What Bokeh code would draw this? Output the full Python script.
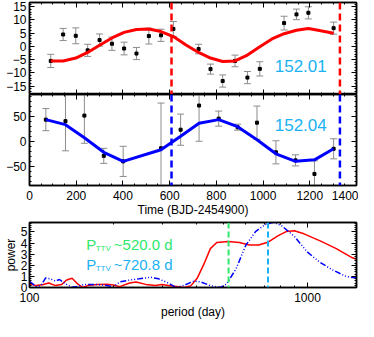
from bokeh.plotting import figure
from bokeh.models import (LinearAxis, LogAxis, FixedTicker, SingleIntervalTicker,
                          PrintfTickFormatter, CustomJSTickFormatter, Span)
from bokeh.layouts import column
from bokeh.core.properties import value
from bokeh.embed import file_html
from bokeh.resources import INLINE

FONT = "Liberation Sans"
RED = "#ff0000"
BLUE = "#0000ff"
CYAN = "#1ab2f2"
GREEN = "#2ee86a"
GRAY = "#8c8c8c"

# ---------------- data ----------------
# KOI 152.01 TTV (minutes)
t1 = [91, 144, 198, 249, 300, 353, 405, 458, 511, 563, 616, 724, 775, 827, 880, 933, 986, 1090, 1143, 1194, 1302]
o1 = [-5.5, 4.5, 4.0, -1.5, 2.4, 1.0, -0.8, -2.7, 3.9, 4.2, 6.6, -1.0, -8.6, -13.1, -5.5, -11.8, -8.5, 8.8, 12.1, 12.7, 6.9]
e1 = [2.5, 2.3, 3.0, 2.3, 2.3, 2.5, 2.4, 2.3, 3.0, 2.3, 2.8, 1.8, 1.9, 2.3, 2.2, 2.3, 2.7, 2.6, 2.0, 2.3, 2.3]
m1_t = [91, 144, 198, 249, 300, 353, 405, 458, 511, 563, 616, 670, 724, 775, 827, 880, 933, 986, 1038, 1090, 1143, 1194, 1247, 1302]
m1_v = [-5.5, -5.5, -4.4, -2.3, 0.4, 3.2, 5.3, 6.4, 6.6, 5.6, 3.7, 0.5, -2.3, -4.4, -5.7, -5.5, -3.3, -0.1, 2.8, 4.8, 6.1, 6.8, 5.9, 5.0]

# KOI 152.04 TTV (minutes)
t4 = [70, 154, 235, 318, 401, 563, 647, 726, 810, 891, 974, 1055, 1139, 1220, 1302]
o4 = [43, 40, 51, -29, -40, -14, 23, 71, 45, 28, 37, -22, -38, -65, -15]
e4 = [22, 59, 55, 15, 30, 90, 31, 71, 15, 6, 33, 23, 11, 26, 20]
m4_t = [70, 154, 235, 318, 401, 563, 647, 726, 810, 891, 974, 1055, 1139, 1220, 1302]
m4_v = [43, 33, 7, -22, -40, -17, 10, 36, 43, 29, 3, -25, -40, -37, -15]

epoch_marks = [608, 1329]

# periodograms
red_p = [100, 101.4, 105.5, 111.3, 117.4, 123.9, 130.6, 136.0, 142.3, 149.4, 155.5, 161.8, 175.4, 190.0, 200.5,
         211.3, 229.1, 241.7, 261.9, 283.8, 299.5, 315.8, 361.1, 380.9, 401.6, 423.8, 447.2, 471.6, 518.1,
         569.0, 616.6, 667.9, 723.8, 784.5, 838.0, 896.3, 970.7, 1110, 1269, 1450, 1500]
red_w = [0.3, 0.28, 0.17, 0.25, 0.4, 0.17, 0.28, 0.67, 0.83, 0.3, 0.0, 0.17, 0.28, 0.3, 0.22,
         0.08, 0.4, 0.5, 0.28, 0.17, 0.28, 0.17, 0.0, 0.17, 0.86, 2.1, 3.5, 4.05, 4.14,
         4.05, 3.83, 3.83, 4.1, 4.67, 5.03, 5.1, 4.83, 4.2, 3.5, 2.67, 2.55]
blue_p = [100, 101.4, 105.5, 109.8, 114.3, 119.0, 123.9, 128.2, 134.3, 141.6, 149.4, 157.6, 170.8, 185.1,
          200.5, 211.3, 229.1, 248.2, 272.6, 291.4, 315.8, 337, 361.1, 391.2, 412.7, 447.2, 484.6, 511.0,
          553.6, 599.8, 650.1, 704.3, 753.4, 805.2, 896.3, 997.5, 1110, 1235, 1375, 1500]
blue_w = [0.55, 0.44, 0.1, 0.17, 0.86, 0.78, 0.58, 0.72, 0.36, 0.03, 0.1, 0.28, 0.28, 0.22,
          0.08, 0.5, 0.67, 0.78, 0.92, 0.78, 0.4, 0.0, 0.22, 0.58, 0.5, 0.17, 0.0, 0.3,
          1.7, 3.8, 5.03, 5.67, 5.86, 5.58, 4.6, 3.2, 2.25, 1.56, 1.0, 0.85]
p_ttv = [520.0, 720.8]
p_lbl = ["~520.0 d", "~720.8 d"]

W = 358
LB = 24
RB = 2


def style_axis(ax, labels=True):
    ax.axis_line_color = "black"
    ax.axis_line_width = 1.5
    ax.major_tick_in = 5
    ax.major_tick_out = 0
    ax.minor_tick_in = 2
    ax.minor_tick_out = 0
    ax.major_tick_line_color = "black"
    ax.minor_tick_line_color = "black"
    ax.major_tick_line_width = 1
    ax.minor_tick_line_width = 1
    ax.axis_label_text_font = FONT
    ax.axis_label_text_font_style = "normal"
    ax.axis_label_text_font_size = "12px"
    ax.axis_label_text_color = "black"
    ax.major_label_text_font = FONT
    ax.major_label_text_color = "black"
    if labels:
        ax.major_label_text_font_size = "12px"
        ax.major_label_standoff = 3
    else:
        ax.formatter = CustomJSTickFormatter(code="return ''")
        ax.major_label_text_font_size = "1px"
        ax.major_label_standoff = 0


def base_fig(height, xr, yr, mbt, mbb, xlog=False):
    p = figure(width=W, height=height, x_range=xr, y_range=yr,
               x_axis_type="log" if xlog else "linear",
               output_backend="svg", toolbar_location=None,
               min_border_left=LB, min_border_right=RB,
               min_border_top=mbt, min_border_bottom=mbb)
    p.grid.visible = False
    p.outline_line_color = "black"
    p.outline_line_width = 1.5
    p.background_fill_color = "white"
    p.border_fill_color = "white"
    return p


def add_frame_axes(p, xt, yt, xlog=False):
    bottom = p.below[0]
    left = p.left[0]
    bottom.ticker = xt()
    left.ticker = yt()
    top = LogAxis(ticker=xt()) if xlog else LinearAxis(ticker=xt())
    right = LinearAxis(ticker=yt())
    style_axis(top, labels=False)
    style_axis(right, labels=False)
    p.add_layout(top, "above")
    p.add_layout(right, "right")
    return bottom, left


def errbars(p, t, o, e):
    lo = [a - b for a, b in zip(o, e)]
    hi = [a + b for a, b in zip(o, e)]
    p.segment(x0=t, y0=lo, x1=t, y1=hi, line_color=GRAY, line_width=1)
    p.scatter(x=t, y=lo, marker="dash", size=7, line_color=GRAY, line_width=1)
    p.scatter(x=t, y=hi, marker="dash", size=7, line_color=GRAY, line_width=1)
    p.scatter(x=t, y=o, marker="square", size=3, fill_color="black", line_color="black")


xtick = lambda: SingleIntervalTicker(interval=200, num_minor_ticks=4)

# ---------------- top panel ----------------
p1 = base_fig(94, (0, 1400), (-18.2, 16.6), 2, 0)
b1, l1 = add_frame_axes(p1, xtick, lambda: SingleIntervalTicker(interval=5, num_minor_ticks=5))
style_axis(b1, labels=False)
style_axis(l1)
errbars(p1, t1, o1, e1)
p1.line(m1_t, m1_v, line_color=RED, line_width=3)
for m in epoch_marks:
    p1.add_layout(Span(location=m, dimension="height", line_color=RED,
                       line_width=2.5, line_dash="7 4"))
p1.text(x=[1050], y=[-7.6], text=["152.01"], text_font=value(FONT), text_font_size="17px",
        text_color=CYAN, text_baseline="middle", text_align="left")

# ---------------- middle panel ----------------
p2 = base_fig(125, (0, 1400), (-88, 93), 0, 0)
b2, l2 = add_frame_axes(p2, xtick, lambda: SingleIntervalTicker(interval=50, num_minor_ticks=5))
style_axis(b2)
style_axis(l2)
b2.axis_label = "Time (BJD-2454900)"
b2.major_label_standoff = 5
b2.axis_label_standoff = 0
errbars(p2, t4, o4, e4)
p2.line(m4_t, m4_v, line_color=BLUE, line_width=3)
for m in epoch_marks:
    p2.add_layout(Span(location=m, dimension="height", line_color=BLUE,
                       line_width=2.5, line_dash="7 4"))
p2.text(x=[1050], y=[33], text=["152.04"], text_font=value(FONT), text_font_size="17px",
        text_color=CYAN, text_baseline="middle", text_align="left")

# ---------------- bottom panel ----------------
p3 = base_fig(102, (100, 1500), (0, 5.85), 3, 0, xlog=True)
logtick = lambda: FixedTicker(ticks=[100, 1000], minor_ticks=[200, 300, 400, 500, 600, 700, 800, 900])
b3, l3 = add_frame_axes(p3, logtick, lambda: SingleIntervalTicker(interval=1, num_minor_ticks=5), xlog=True)
style_axis(b3)
style_axis(l3)
b3.formatter = PrintfTickFormatter(format="%d")
b3.axis_label = "period (day)"
b3.major_label_standoff = 5
b3.axis_label_standoff = 0
l3.axis_label = "power"
l3.axis_label_standoff = 0
l3.major_label_standoff = 2
p3.line(red_p, red_w, line_color=RED, line_width=1.5)
p3.line(blue_p, blue_w, line_color=BLUE, line_width=1.5, line_dash="6 2 1 2 1 2 1 2")
p3.add_layout(Span(location=p_ttv[0], dimension="height", line_color=GREEN,
                   line_width=2, line_dash="6 3"))
p3.add_layout(Span(location=p_ttv[1], dimension="height", line_color=CYAN,
                   line_width=2, line_dash="6 3"))
for col, yv, lbl in [(GREEN, 3.9, p_lbl[0]), (CYAN, 2.1, p_lbl[1])]:
    p3.text(x=[160], y=[yv], text=["P"], text_font=value(FONT), text_font_size="15px",
            text_color=col, text_baseline="middle", text_align="left")
    p3.text(x=[173], y=[yv - 0.35], text=["TTV"], text_font=value(FONT), text_font_size="8px",
            text_color=col, text_baseline="middle", text_align="left")
    p3.text(x=[201], y=[yv], text=[lbl], text_font=value(FONT), text_font_size="15px",
            text_color=col, text_baseline="middle", text_align="left")

layout = column(p1, p2, p3, spacing=0)
open("out.html", "w").write(file_html(layout, INLINE))
